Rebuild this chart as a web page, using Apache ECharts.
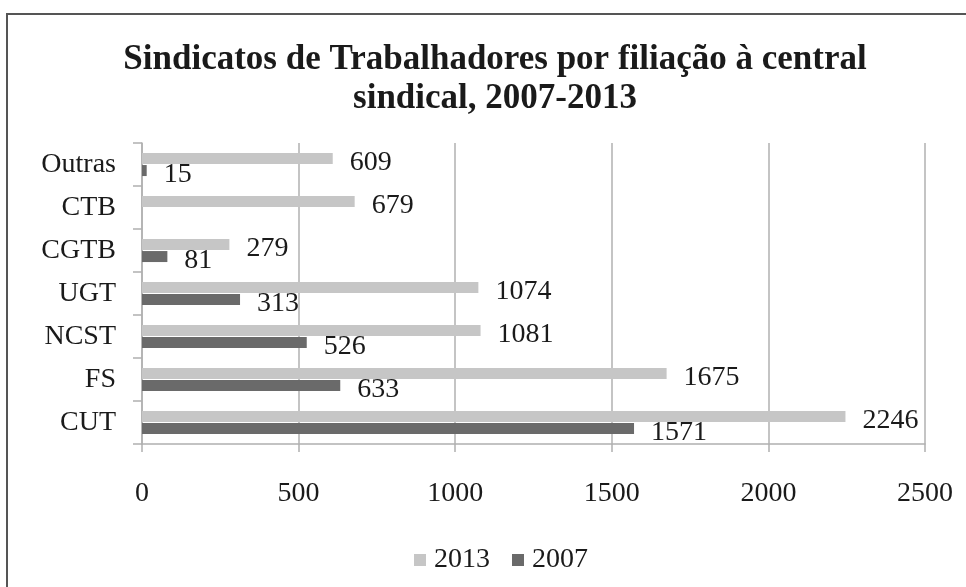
<!DOCTYPE html>
<html>
<head>
<meta charset="utf-8">
<script src="https://cdn.jsdelivr.net/npm/echarts@6/dist/echarts.min.js"></script>
<style>
  html, body { margin: 0; padding: 0; background: #fff; }
  #chart { width: 966px; height: 587px; }
</style>
</head>
<body>
<div id="chart"></div>
<script>
(function() {
  // categorias de baixo para cima
  var categories = ['CUT', 'FS', 'NCST', 'UGT', 'CGTB', 'CTB', 'Outras'];
  var values2013 = [2246, 1675, 1081, 1074, 279, 679, 609];
  var values2007 = [1571, 633, 526, 313, 81, '-', 15];
  var xTicks = [0, 500, 1000, 1500, 2000, 2500];

  var serif = '"Liberation Serif", "DejaVu Serif", serif';
  var ink = '#1a1a1a';
  var rule = '#b0b0b0';
  var light = '#c6c6c6';
  var dark = '#6a6a6a';

  var chart = echarts.init(document.getElementById('chart'), null, { renderer: 'canvas' });

  var labelStyle = {
    show: true,
    position: 'right',
    distance: 17,
    offset: [0, 4],
    color: ink,
    fontFamily: serif,
    fontSize: 28
  };

  chart.setOption({
    animation: false,
    backgroundColor: '#fff',
    graphic: [{
      type: 'rect',
      shape: { x: 7, y: 14, width: 980, height: 600 },
      style: { fill: 'none', stroke: '#555', lineWidth: 2 },
      silent: true
    }],
    title: {
      text: 'Sindicatos de Trabalhadores por filiação à central\nsindical, 2007-2013',
      left: 490,
      textAlign: 'center',
      top: 35,
      textStyle: {
        color: ink,
        fontFamily: serif,
        fontWeight: 'bold',
        fontSize: 35,
        lineHeight: 39
      }
    },
    legend: {
      data: ['2013', '2007'],
      bottom: 8,
      left: 409,
      itemWidth: 12,
      itemHeight: 12,
      itemGap: 22,
      icon: 'rect',
      textStyle: { color: ink, fontFamily: serif, fontSize: 28, padding: [0, 0, 0, 3] }
    },
    grid: { left: 142, right: 41, top: 143, bottom: 143 },
    xAxis: {
      type: 'value',
      min: xTicks[0],
      max: xTicks[xTicks.length - 1],
      interval: xTicks[1] - xTicks[0],
      axisLine: { show: true, lineStyle: { color: rule, width: 1.5 } },
      axisTick: { show: true, length: 8, lineStyle: { color: rule, width: 1.5 } },
      splitLine: { show: true, lineStyle: { color: rule, width: 1.5 } },
      axisLabel: {
        color: ink, fontFamily: serif, fontSize: 28, margin: 36,
        formatter: function(v) { return String(v); }
      }
    },
    yAxis: {
      type: 'category',
      data: categories,
      axisLine: { show: true, lineStyle: { color: rule, width: 1.5 } },
      axisTick: { show: true, length: 9, lineStyle: { color: rule, width: 1.5 } },
      axisLabel: { color: ink, fontFamily: serif, fontSize: 28, margin: 26, padding: [8, 0, 0, 0] }
    },
    series: [{
      name: '2013',
      type: 'bar',
      data: values2013,
      itemStyle: { color: light },
      barWidth: 11,
      barGap: '10%',
      label: labelStyle
    }, {
      name: '2007',
      type: 'bar',
      data: values2007,
      itemStyle: { color: dark },
      barWidth: 11,
      barGap: '10%',
      label: labelStyle
    }]
  });
  window.addEventListener('resize', function() { chart.resize(); });
})();
</script>
</body>
</html>
